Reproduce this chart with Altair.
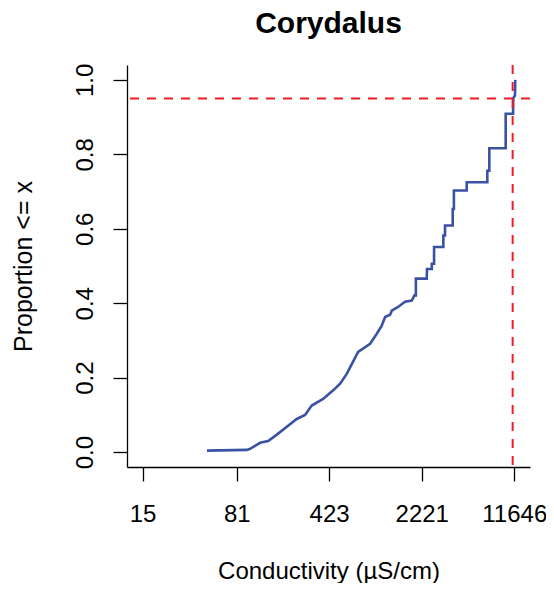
import altair as alt
import pandas as pd

# ECDF path (conductivity in uS/cm, cumulative proportion)
conductivity = [47.5, 97, 103, 123, 142, 166, 203, 237, 275, 310, 380, 455, 515, 580,
                650, 711, 881, 993, 1086, 1153, 1260, 1299, 1454, 1648, 1858, 1950,
                2000, 2000, 2430, 2440, 2660, 2660, 2770, 2770, 3271, 3271, 3370, 3370,
                3868, 3868, 3950, 3950, 4970, 4970, 7187, 7187, 7448, 7448, 9984, 9984,
                11400, 11436, 11790, 11850]
proportion = [0.004, 0.006, 0.009, 0.025, 0.030, 0.047, 0.071, 0.089, 0.100, 0.125, 0.143,
              0.166, 0.184, 0.210, 0.243, 0.269, 0.291, 0.318, 0.340, 0.363, 0.369, 0.380,
              0.390, 0.404, 0.407, 0.421, 0.421, 0.466, 0.466, 0.492, 0.492, 0.506, 0.506,
              0.551, 0.551, 0.582, 0.582, 0.609, 0.609, 0.653, 0.653, 0.703, 0.703, 0.725,
              0.725, 0.756, 0.756, 0.8165, 0.8165, 0.909, 0.909, 0.951, 0.958, 1.0]
order = list(range(len(conductivity)))

x_ticks = [15, 81, 423, 2221, 11646]
y_ticks = [0.0, 0.2, 0.4, 0.6, 0.8, 1.0]
x_domain = [11.35, 15430]
y_domain = [-0.04, 1.04]

ref_proportion = [0.95]
ref_conductivity = [11310]

df = pd.DataFrame({"c": conductivity, "p": proportion, "o": order})
hdf = pd.DataFrame({"p": ref_proportion})
vdf = pd.DataFrame({"c": ref_conductivity})

FONT = "Liberation Sans"

xscale = alt.Scale(type="log", domain=x_domain, nice=False, zero=False)
yscale = alt.Scale(domain=y_domain, nice=False, zero=False)

xaxis = alt.Axis(values=x_ticks, format="d", grid=False, tickSize=14, tickWidth=1.3,
                 domainWidth=1.3, domainColor="black", tickColor="black",
                 labelColor="black", labelFontSize=24, labelFont=FONT,
                 labelPadding=21, labelBaseline="top", labelFlush=False,
                 labelOverlap=False, title="Conductivity (µS/cm)", titleFont=FONT,
                 titleFontSize=24, titleFontWeight="normal", titleColor="black",
                 titleBaseline="middle", titleX=201.5, titleY=104)
yaxis = alt.Axis(values=y_ticks, format=".1f", grid=False, tickSize=14, tickWidth=1.3,
                 domainWidth=1.3, domainColor="black", tickColor="black",
                 labelColor="black", labelFontSize=24, labelFont=FONT,
                 labelAngle=-90, labelAlign="center", labelBaseline="alphabetic",
                 labelPadding=21, labelFlush=False, labelOverlap=False,
                 title="Proportion <= x", titleFont=FONT, titleFontSize=25,
                 titleFontWeight="normal", titleColor="black", titleAngle=-90,
                 titleAlign="center", titleBaseline="alphabetic",
                 titleX=-96, titleY=201)

line = alt.Chart(df).mark_line(color="#3A52A3", strokeWidth=2.6, interpolate="linear").encode(
    x=alt.X("c:Q", scale=xscale, axis=xaxis),
    y=alt.Y("p:Q", scale=yscale, axis=yaxis),
    order="o:Q",
)
hline = alt.Chart(hdf).mark_rule(color="#EE1C25", strokeWidth=2, strokeDash=[9, 8]).encode(
    y=alt.Y("p:Q", scale=yscale)
)
vline = alt.Chart(vdf).mark_rule(color="#EE1C25", strokeWidth=2, strokeDash=[9, 8]).encode(
    x=alt.X("c:Q", scale=xscale)
)

chart = alt.layer(line, hline, vline).properties(
    width=403,
    height=402,
    title=alt.TitleParams("Corydalus", font=FONT, fontSize=30, fontWeight="bold",
                          color="black", anchor="middle", offset=24),
    autosize=alt.AutoSizeParams(type="none"),
    padding={"left": 119, "top": 57, "right": 16, "bottom": 116},
).configure_view(stroke=None)

chart.save("out.html", embed_options={"renderer": "svg", "actions": False})
